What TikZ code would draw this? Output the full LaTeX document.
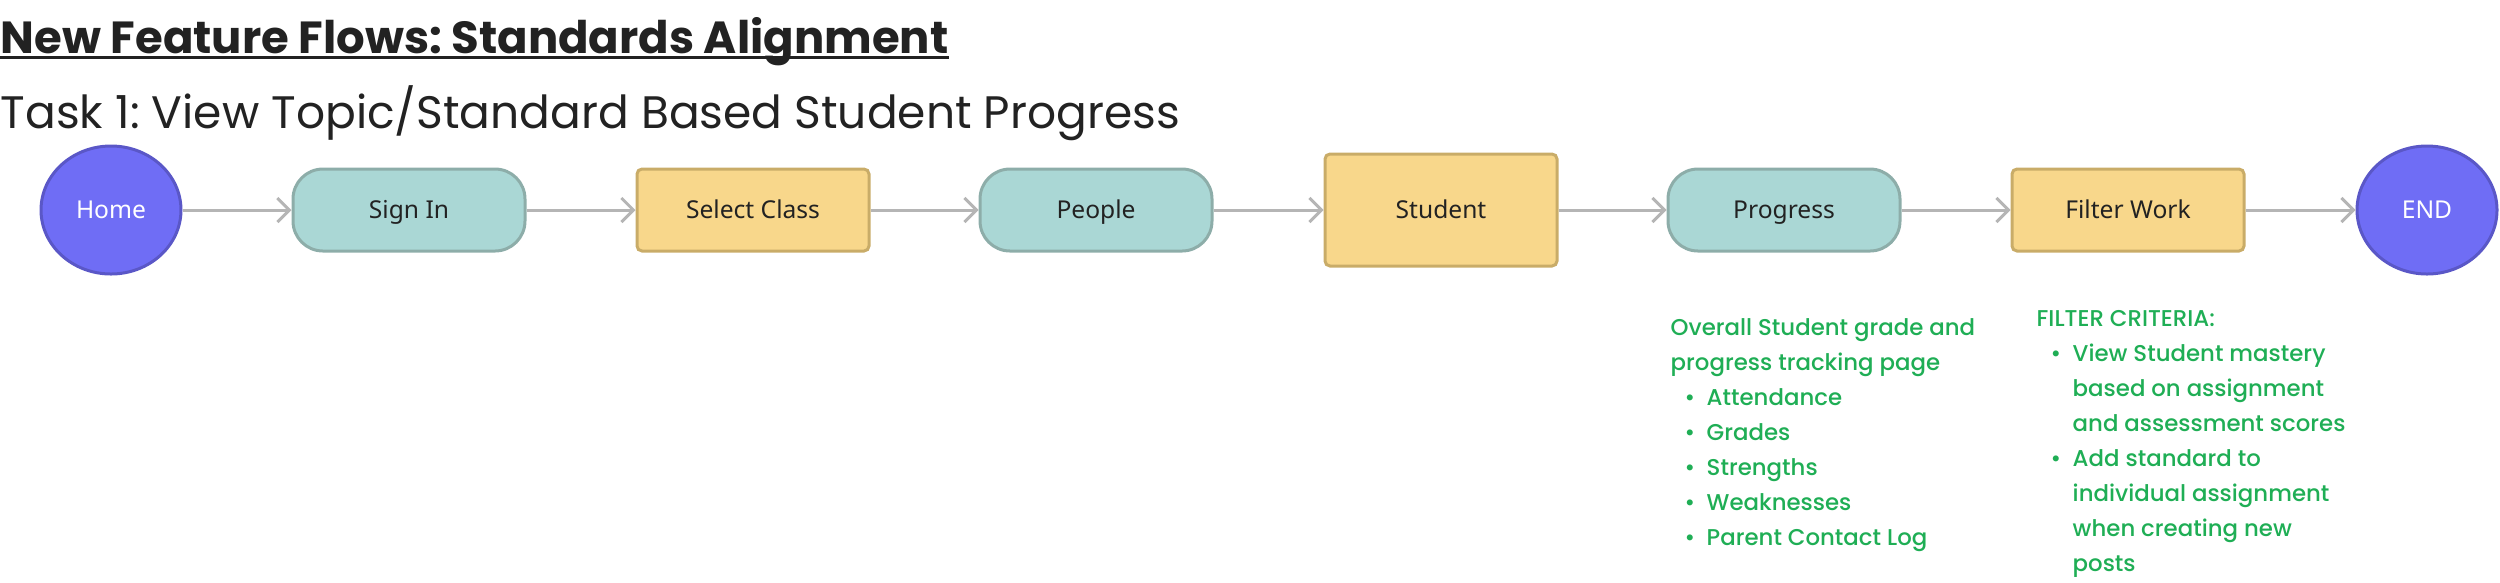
\documentclass[tikz,border=0pt]{standalone}
\usepackage{fontspec}
\setmainfont{Poppins}
\newfontfamily\notefont{Poppins}[UprightFont=* Medium]
\newfontfamily\boxfont{Noto Sans}
\usetikzlibrary{shapes.geometric,arrows.meta}
\definecolor{ink}{HTML}{222222}
\definecolor{termfill}{HTML}{6F6DF5}
\definecolor{termline}{HTML}{5A57C7}
\definecolor{screenfill}{HTML}{AAD7D5}
\definecolor{screenline}{HTML}{8DADA9}
\definecolor{pagefill}{HTML}{F8D78B}
\definecolor{pageline}{HTML}{C9AC68}
\definecolor{flowgray}{HTML}{B5B5B5}
\definecolor{notegreen}{HTML}{1FAE55}
\newcommand{\bitem}[1]{\hspace*{0.14cm}\makebox[0.22cm][l]{•}#1}
\newcommand{\bmore}[1]{\hspace*{0.36cm}#1}
\frenchspacing
\begin{document}
\begin{tikzpicture}[every node/.style={inner sep=0pt},
    term/.style={ellipse,draw=termline,fill=termfill,line width=0.03cm,minimum width=1.4cm,minimum height=1.28cm,text=white,text height=0.176cm,text depth=0pt,font=\boxfont\fontsize{7}{8}\selectfont},
    screen/.style={draw=screenline,fill=screenfill,line width=0.03cm,rounded corners=0.3cm,minimum width=2.32cm,minimum height=0.82cm,text=ink,text height=0.176cm,text depth=0pt,font=\boxfont\fontsize{7}{8}\selectfont},
    page/.style={draw=pageline,fill=pagefill,line width=0.03cm,rounded corners=0.05cm,minimum width=2.32cm,minimum height=0.82cm,text=ink,text height=0.176cm,text depth=0pt,font=\boxfont\fontsize{7}{8}\selectfont},
    flow/.style={draw=flowgray,line width=0.03cm,-{Straight Barb[length=0.12cm,width=0.24cm]}},
    note/.style={anchor=north west,align=left,text=notegreen,font=\notefont\fontsize{6.5}{9.96}\selectfont}]
  \useasboundingbox (0,0) rectangle (25,-5.82);
  \node [anchor=base west,text=ink,font=\bfseries\fontsize{12.8}{16}\selectfont] (title) at (0,-0.53) {New Feature Flows: Standards Alignment};
  \draw [ink,line width=0.03cm] ([yshift=-0.04cm]title.base west) -- ([yshift=-0.04cm]title.base east);
  \node [anchor=base west,text=ink,font=\fontsize{12.95}{16}\selectfont] (task) at (0,-1.28) {Task 1: View Topic/Standard Based Student Progress};
  \node [term] (home) at (1.11,-2.10) {Home};
  \node [screen] (signin) at (4.09,-2.10) {Sign In};
  \node [page] (selectclass) at (7.53,-2.10) {Select Class};
  \node [screen] (people) at (10.96,-2.10) {People};
  \node [page,minimum height=1.12cm] (student) at (14.41,-2.10) {Student};
  \node [screen] (progress) at (17.84,-2.10) {Progress};
  \node [page] (filterwork) at (21.28,-2.10) {Filter Work};
  \node [term] (end) at (24.27,-2.10) {END};
  \draw [flow] (home) -- (signin);
  \draw [flow] (signin) -- (selectclass);
  \draw [flow] (selectclass) -- (people);
  \draw [flow] (people) -- (student);
  \draw [flow] (student) -- (progress);
  \draw [flow] (progress) -- (filterwork);
  \draw [flow] (filterwork) -- (end);
  \node [note] (progressnotes) at (16.70,-3.10) {\rule{0pt}{0.25cm}Overall Student grade and\\progress tracking page\\\bitem{Attendance}\\\bitem{Grades}\\\bitem{Strengths}\\\bitem{Weaknesses}\\\bitem{Parent Contact Log}};
  \node [note] (filternotes) at (20.36,-3.01) {\rule{0pt}{0.25cm}FILTER CRITERIA:\\\bitem{View Student mastery}\\\bmore{based on assignment}\\\bmore{and assessment scores}\\\bitem{Add standard to}\\\bmore{individual assignment}\\\bmore{when creating new}\\\bmore{posts}};
\end{tikzpicture}
\end{document}
